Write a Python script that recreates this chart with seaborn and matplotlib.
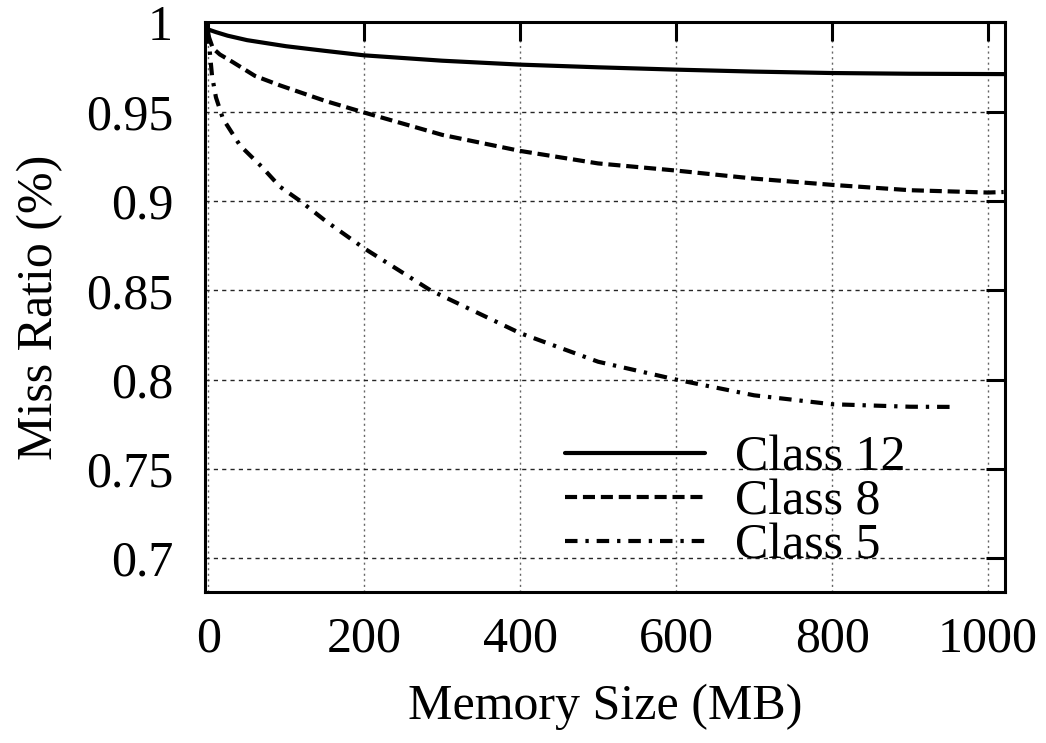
import numpy as np
import pandas as pd
import matplotlib
matplotlib.use("Agg")
import matplotlib.pyplot as plt
import seaborn as sns

# values
mem_12 = [0, 10, 25, 50, 100, 150, 200, 300, 400, 500, 600, 700, 800, 900, 1020]
miss_12 = [0.996, 0.9945, 0.9925, 0.990, 0.9866, 0.984, 0.9815, 0.9785, 0.9763,
           0.9748, 0.9735, 0.9724, 0.9716, 0.9712, 0.9710]

mem_8 = [0, 6, 15, 32, 60, 92, 150, 200, 300, 400, 500, 600, 700, 800, 900, 1000, 1020]
miss_8 = [0.993, 0.9855, 0.982, 0.9776, 0.970, 0.9647, 0.956, 0.9495, 0.937, 0.928,
          0.921, 0.917, 0.9125, 0.909, 0.906, 0.9047, 0.905]

mem_5 = [0, 2, 5, 10, 19, 41, 69, 92, 118, 150, 200, 285, 400, 500, 600, 700, 800, 900, 958]
miss_5 = [0.995, 0.984, 0.970, 0.958, 0.946, 0.931, 0.919, 0.908, 0.900, 0.889, 0.8735,
          0.850, 0.826, 0.810, 0.800, 0.7912, 0.7862, 0.7848, 0.7847]

labels = ["Class 12", "Class 8", "Class 5"]
x_ticks = [0, 200, 400, 600, 800, 1000]
y_ticks = [0.7, 0.75, 0.8, 0.85, 0.9, 0.95, 1.0]
y_tick_labels = ["0.7", "0.75", "0.8", "0.85", "0.9", "0.95", "1"]

sns.set_style("white")
plt.rcParams["font.family"] = ["Liberation Serif", "DejaVu Serif"]
plt.rcParams["text.color"] = "black"
plt.rcParams["axes.labelcolor"] = "black"
plt.rcParams["xtick.color"] = "black"
plt.rcParams["ytick.color"] = "black"

fig = plt.figure(figsize=(10.46, 7.43), dpi=100)
ax = fig.add_axes([0.196, 0.203, 0.765, 0.767])

series = [(mem_12, miss_12, "-"), (mem_8, miss_8, (0, (2.9, 1.4))),
          (mem_5, miss_5, (0, (3.0, 1.9, 0.8, 1.9)))]
for (xs, ys, ls), lab in zip(series, labels):
    df = pd.DataFrame({"mem": xs, "miss": ys})
    sns.lineplot(data=df, x="mem", y="miss", ax=ax, color="black", lw=3,
                 label=lab, sort=True)
    ax.lines[-1].set_linestyle(ls)

ax.set_xlim(-4, 1022)
ax.set_ylim(0.681, 1.0)
ax.set_xticks(x_ticks)
ax.set_yticks(y_ticks)
ax.set_yticklabels(y_tick_labels)

ax.xaxis.grid(True, linestyle=(0, (1.5, 2.5)), color="0.4", lw=1.0)
ax.yaxis.grid(True, linestyle=(0, (3, 3)), color="0.15", lw=1.0)
ax.set_axisbelow(True)

for sp in ax.spines.values():
    sp.set_visible(True)
    sp.set_color("black")
    sp.set_linewidth(2.2)

ax.tick_params(axis="both", direction="in", length=14, width=2.2, top=True,
               right=True, labelsize=36, colors="black")
ax.tick_params(axis="x", pad=17)
ax.tick_params(axis="y", pad=23)

ax.set_xlabel("Memory Size (MB)", fontsize=36, labelpad=15, color="black")
ax.set_ylabel("Miss Ratio (%)", fontsize=36, labelpad=16, color="black")

leg = ax.legend(loc="upper left", bbox_to_anchor=(0.45, 0.275), frameon=False,
                fontsize=36, handlelength=2.8, handletextpad=0.6,
                labelspacing=-0.05, borderpad=0, borderaxespad=0)
for h in leg.get_lines():
    h.set_linewidth(3)
for t in leg.get_texts():
    t.set_color("black")

fig.savefig("out.png", dpi=100)
